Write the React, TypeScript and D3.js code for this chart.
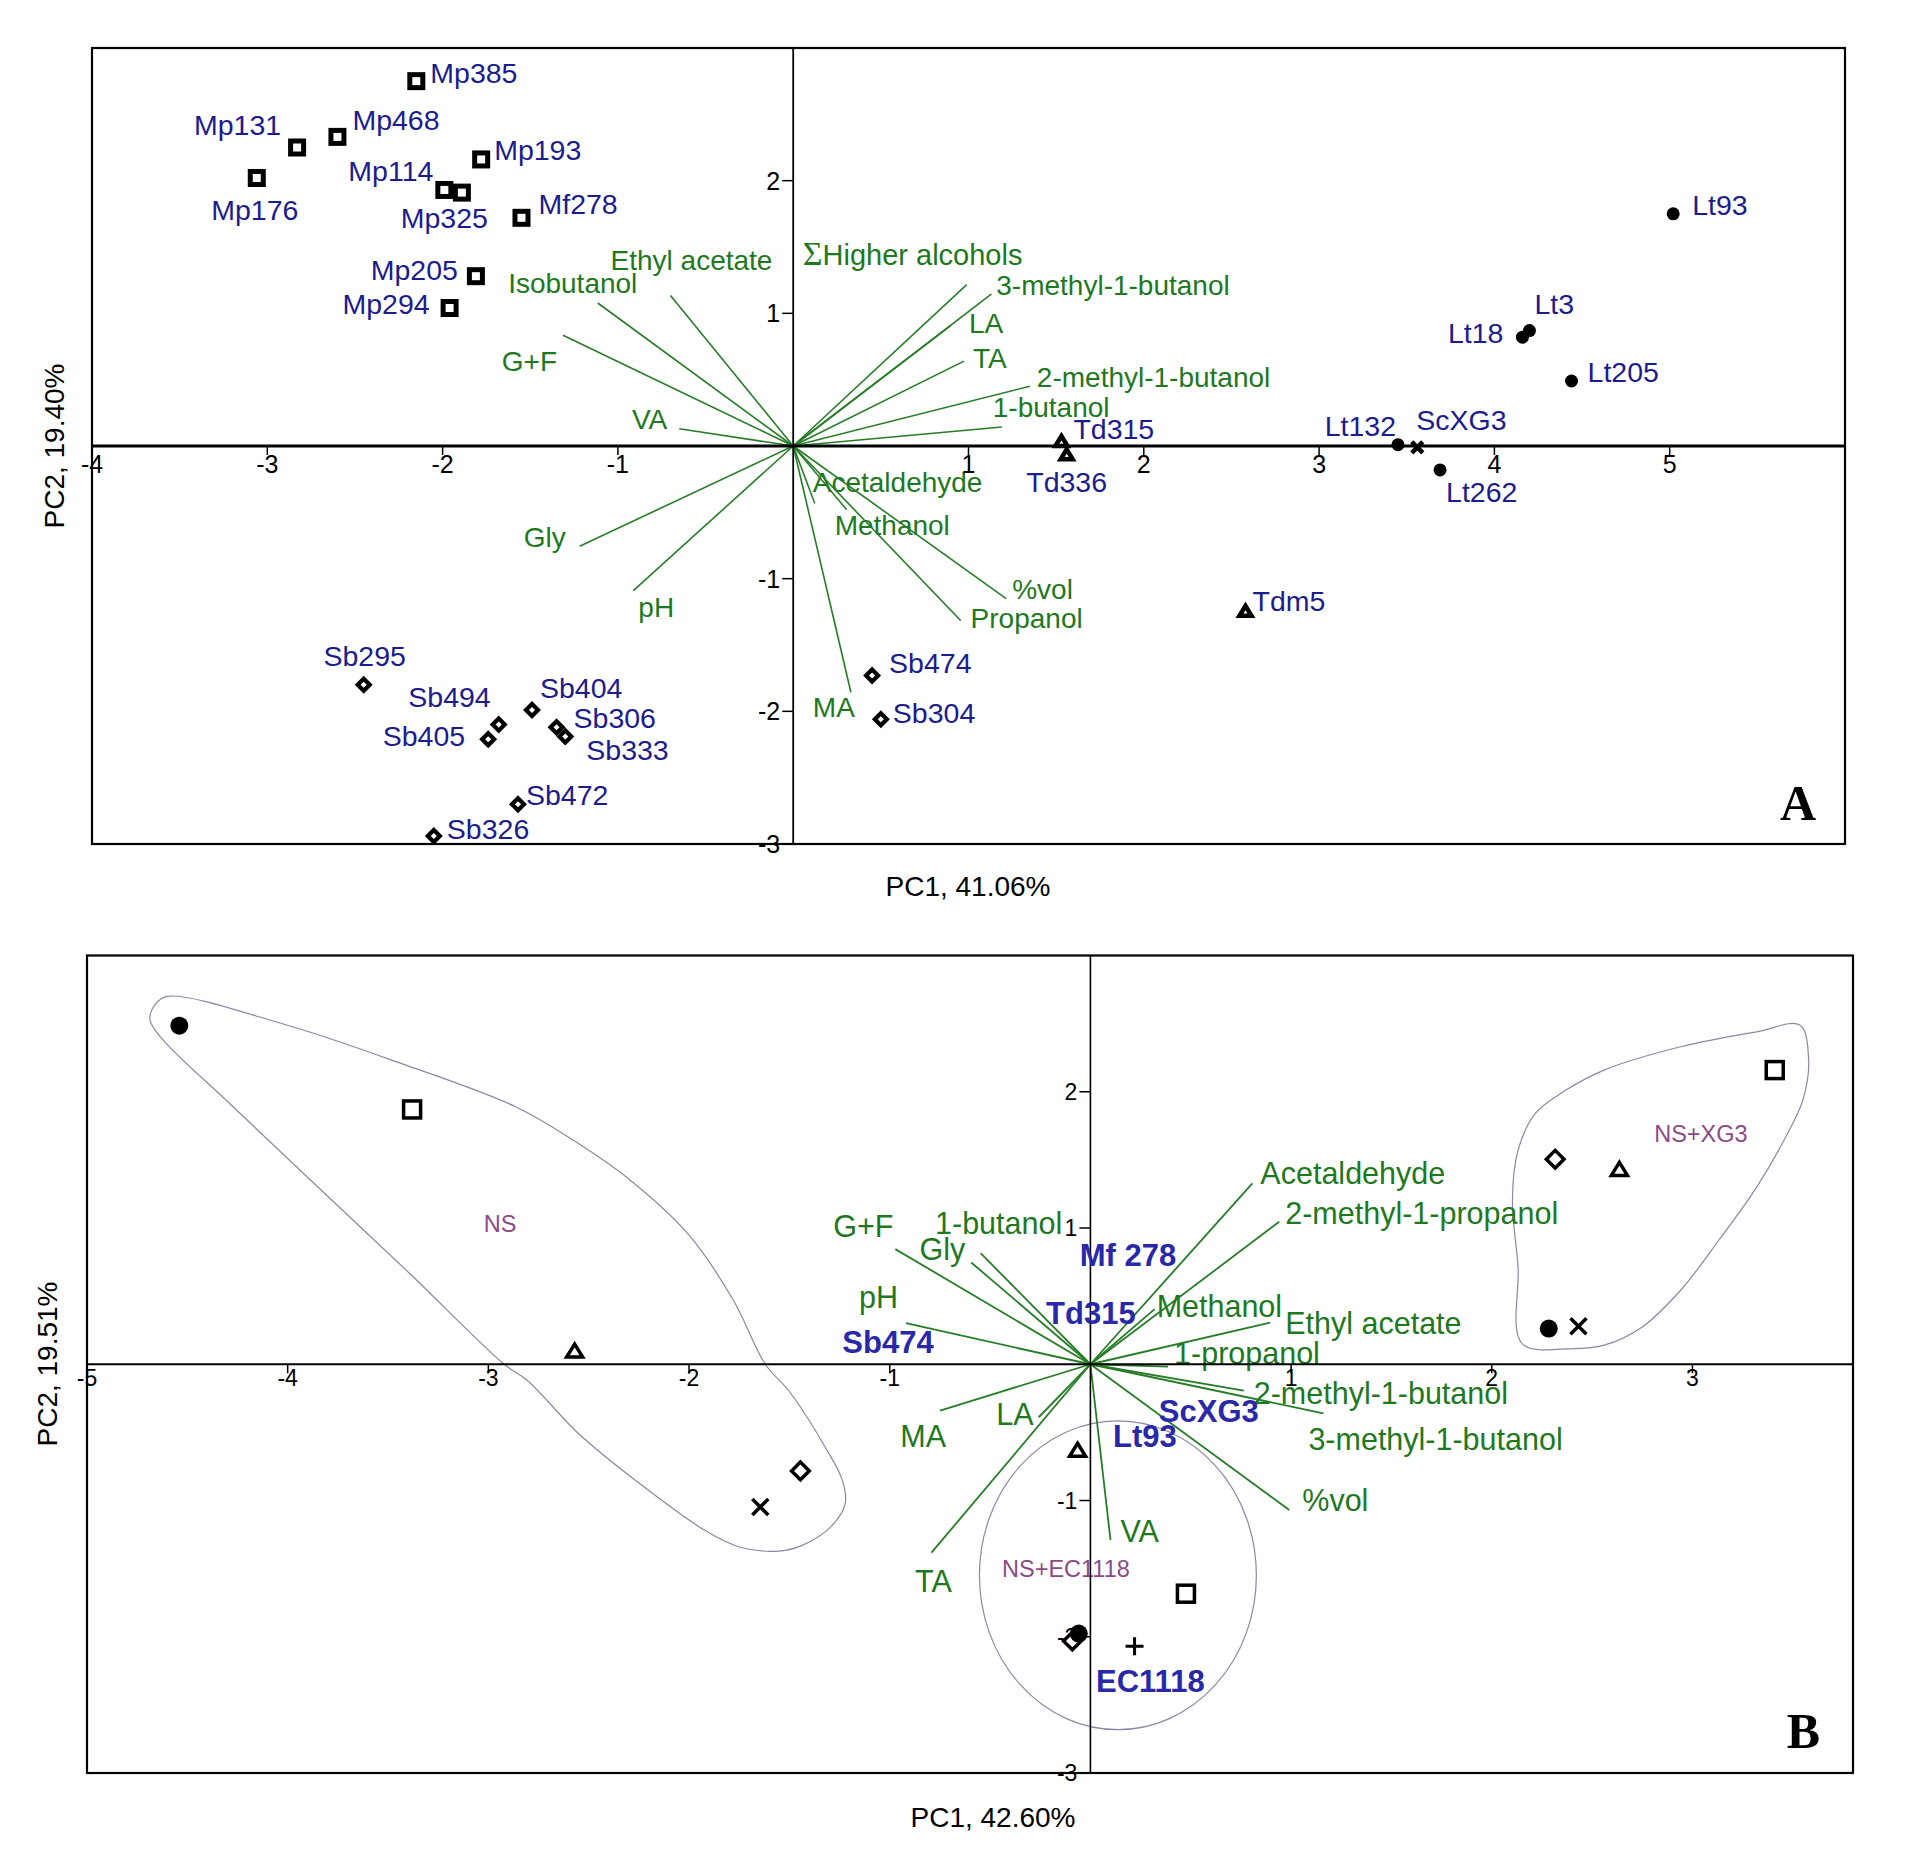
import React, { useRef, useEffect } from "react";
import * as d3 from "d3";

// ---------- Panel A: samples ----------
const sampleNamesA = [
  "Mp385", "Mp468", "Mp131", "Mp176", "Mp193", "Mp114", "Mp325", "Mf278", "Mp205", "Mp294",
  "Lt93", "Lt3", "Lt18", "Lt205", "Lt132", "Lt262", "ScXG3",
  "Td315", "Td336", "Tdm5",
  "Sb474", "Sb304", "Sb295", "Sb494", "Sb405", "Sb404", "Sb306", "Sb333", "Sb472", "Sb326",
];
const sampleMarkerA = [
  "square", "square", "square", "square", "square", "square", "square", "square", "square", "square",
  "circle", "circle", "circle", "circle", "circle", "circle", "times",
  "triangle", "triangle", "triangle",
  "diamond", "diamond", "diamond", "diamond", "diamond", "diamond", "diamond", "diamond", "diamond", "diamond",
];
const pc1A = [
  -2.15, -2.6, -2.83, -3.06, -1.78, -1.99, -1.89, -1.55, -1.81, -1.96,
  5.02, 4.2, 4.16, 4.44, 3.45, 3.69, 3.56,
  1.53, 1.56, 2.58,
  0.45, 0.5, -2.45, -1.68, -1.74, -1.49, -1.35, -1.3, -1.57, -2.05,
];
const pc2A = [
  2.75, 2.33, 2.25, 2.02, 2.16, 1.93, 1.91, 1.72, 1.28, 1.04,
  1.75, 0.87, 0.82, 0.49, 0.01, -0.18, -0.01,
  0.03, -0.07, -1.25,
  -1.73, -2.06, -1.8, -2.1, -2.21, -1.99, -2.12, -2.19, -2.7, -2.94,
];

// ---------- Panel A: variable loadings ----------
const varNamesA = [
  "Ethyl acetate", "Isobutanol", "G+F", "VA", "Gly", "pH", "MA", "Acetaldehyde", "Methanol",
  "%vol", "Propanol", "ΣHigher alcohols", "3-methyl-1-butanol", "LA", "TA", "2-methyl-1-butanol", "1-butanol",
];
const load1A = [-0.7, -1.115, -1.313, -0.65, -1.218, -0.912, 0.329, 0.123, 0.305, 1.215, 0.955, 0.99, 1.13, 0.9, 0.974, 1.35, 1.19];
const load2A = [1.134, 1.078, 0.835, 0.13, -0.755, -1.09, -1.856, -0.434, -0.48, -1.151, -1.315, 1.217, 1.145, 0.91, 0.64, 0.45, 0.143];

const ticksAX = [-4, -3, -2, -1, 1, 2, 3, 4, 5];
const ticksAY = [-3, -2, -1, 1, 2];

// ---------- Panel B: samples ----------
const groupB = [
  "NS", "NS", "NS", "NS", "NS",
  "NS+XG3", "NS+XG3", "NS+XG3", "NS+XG3", "NS+XG3",
  "NS+EC1118", "NS+EC1118", "NS+EC1118", "NS+EC1118", "NS+EC1118",
];
const markerB = [
  "circle", "square", "triangle", "diamond", "times",
  "square", "diamond", "triangle", "circle", "times",
  "triangle", "square", "diamond", "circle", "plus",
];
const pc1B = [-4.54, -3.38, -2.57, -1.445, -1.645, 3.41, 2.316, 2.636, 2.284, 2.432, -0.064, 0.476, -0.09, -0.058, 0.22];
const pc2B = [2.485, 1.87, 0.091, -0.783, -1.048, 2.159, 1.505, 1.424, 0.262, 0.279, -0.637, -1.684, -2.031, -1.977, -2.07];

// ---------- Panel B: variable loadings ----------
const varNamesB = [
  "G+F", "1-butanol", "Gly", "pH", "MA", "LA", "TA", "VA", "%vol", "Methanol",
  "1-propanol", "Ethyl acetate", "Acetaldehyde", "2-methyl-1-propanol", "2-methyl-1-butanol", "3-methyl-1-butanol",
];
const load1B = [-0.972, -0.547, -0.594, -0.919, -0.749, -0.258, -0.792, 0.1, 0.991, 0.32, 0.387, 0.896, 0.807, 0.941, 0.764, 1.161];
const load2B = [0.845, 0.815, 0.747, 0.301, -0.34, -0.389, -1.383, -1.29, -1.07, 0.405, -0.017, 0.306, 1.328, 1.046, -0.194, -0.36];

// strain names written inside panel B
const strainNamesB = ["Mf 278", "Td315", "Sb474", "ScXG3", "Lt93", "EC1118"];
const strainXB = [-0.053, -0.221, -1.236, 0.341, 0.113, 0.028];
const strainYB = [0.721, 0.295, 0.085, -0.422, -0.605, -2.403];

const groupNamesB = ["NS", "NS+XG3", "NS+EC1118"];
const groupXB = [-2.942, 3.042, -0.122];
const groupYB = [0.971, 1.633, -1.559];

// group envelopes (PC1, PC2)
const hullNS: [number, number][] = [
  [-4.6, 2.7], [-4.006, 2.49], [-3.435, 2.208], [-2.864, 1.89], [-2.578, 1.645], [-2.293, 1.351],
  [-2.007, 0.96], [-1.779, 0.47], [-1.62, 0.0], [-1.5, -0.2], [-1.322, -0.607], [-1.236, -0.852],
  [-1.222, -1.023], [-1.294, -1.194], [-1.436, -1.329], [-1.55, -1.371], [-1.75, -1.341],
  [-1.922, -1.219], [-2.26, -0.86], [-2.55, -0.51], [-2.807, -0.117], [-2.921, 0.0],
  [-3.392, 0.666], [-3.921, 1.4], [-4.289, 1.914], [-4.62, 2.379], [-4.686, 2.526], [-4.663, 2.636],
];
const hullXG3: [number, number][] = [
  [3.535, 2.489], [3.579, 2.232], [3.55, 1.938], [3.474, 1.694], [3.321, 1.302], [3.131, 0.91],
  [2.941, 0.543], [2.75, 0.274], [2.56, 0.14], [2.407, 0.115], [2.151, 0.152], [2.131, 0.714],
  [2.103, 1.204], [2.131, 1.571], [2.217, 1.841], [2.37, 2.012], [2.56, 2.159], [2.941, 2.33], [3.321, 2.44],
];
const ellipseEC = [0.137, -1.549, 0.69, 1.133]; // cx, cy, rx, ry

const ticksBX = [-5, -4, -3, -2, -1, 1, 2, 3];
const ticksBY = [-3, -2, -1, 1, 2];

// ---------- label placement (anchor, dx, dy in px) ----------
type Place = [string, number, number];
const sampleLabelA: Record<string, Place> = {
  Mp385: ["start", 14, 2], Mp468: ["start", 15, -7], Mp131: ["end", -16, -13], Mp176: ["middle", -2, 42],
  Mp193: ["start", 13, 1], Mp114: ["end", -11, -9], Mp325: ["end", 26, 35], Mf278: ["start", 17, -4],
  Mp205: ["end", -18, 4], Mp294: ["end", -20, 6],
  Lt93: ["start", 19, 1], Lt3: ["start", 5, -17], Lt18: ["end", -19, 6], Lt205: ["start", 16, 1],
  Lt132: ["end", -2, -9], Lt262: ["start", 6, 32], ScXG3: ["start", -1, -17],
  Td315: ["start", 12, -3], Td336: ["middle", 0, 37], Tdm5: ["start", 7, -1],
  Sb474: ["start", 17, -3], Sb304: ["start", 12, 4], Sb295: ["middle", 1, -19], Sb494: ["end", -8, -18],
  Sb405: ["end", -23, 7], Sb404: ["start", 8, -12], Sb306: ["start", 17, 1], Sb333: ["start", 21, 23],
  Sb472: ["start", 8, 1], Sb326: ["start", 13, 3],
};
const varLabelA: Record<string, Place> = {
  "Ethyl acetate": ["middle", 21, -26], Isobutanol: ["middle", -25, -10], "G+F": ["end", -6, 36],
  VA: ["end", -12, 0], Gly: ["end", -14, 1], pH: ["start", 5, 26], MA: ["middle", -17, 25],
  Acetaldehyde: ["start", -2, -12], Methanol: ["start", -12, 25], "%vol": ["start", 6, 0],
  Propanol: ["start", 10, 8], "ΣHigher alcohols": ["start", -164, -20], "3-methyl-1-butanol": ["start", 5, 1],
  LA: ["start", 18, 8], TA: ["start", 9, 7], "2-methyl-1-butanol": ["start", 7, 1], "1-butanol": ["start", -9, -10],
};
const varLabelB: Record<string, Place> = {
  "G+F": ["end", -2, -12], "1-butanol": ["middle", 18, -19], Gly: ["end", -6, -2], pH: ["end", -8, -15],
  MA: ["middle", -17, 36], LA: ["end", -5, 8], TA: ["middle", 2, 39], VA: ["start", 10, 2],
  "%vol": ["start", 13, 1], Methanol: ["start", 2, 8], "1-propanol": ["start", 6, -3],
  "Ethyl acetate": ["start", 15, 11], Acetaldehyde: ["start", 8, 1], "2-methyl-1-propanol": ["start", 6, 2],
  "2-methyl-1-butanol": ["start", 10, 13], "3-methyl-1-butanol": ["start", -15, 37],
};

const sans = "'Liberation Sans', Arial, sans-serif";
const serif = "'Liberation Serif', 'Times New Roman', serif";
const blueA = "#1c1c8c";
const blueB = "#2828a8";
const green = "#1e781e";
const greenLine = "#277d27";
const purple = "#8a4a8a";
const hullColor = "#9084a6";

type G = d3.Selection<SVGGElement, unknown, null, undefined>;

function drawMarker(g: G, shape: string, x: number, y: number, big: boolean) {
  const m = g.append("g").attr("transform", `translate(${x},${y})`);
  if (shape === "circle") {
    m.append("circle").attr("r", big ? 6.5 : 9).attr("fill", "#000");
  } else if (shape === "square") {
    const s = big ? 13 : 17;
    m.append("rect").attr("x", -s / 2).attr("y", -s / 2).attr("width", s).attr("height", s)
      .attr("fill", "#fff").attr("stroke", "#000").attr("stroke-width", big ? 5 : 3.5);
  } else if (shape === "diamond") {
    const s = big ? 8.5 : 12.5;
    m.append("rect").attr("x", -s / 2).attr("y", -s / 2).attr("width", s).attr("height", s)
      .attr("transform", "rotate(45)")
      .attr("fill", "#fff").attr("stroke", "#000").attr("stroke-width", big ? 4.2 : 3.5);
  } else if (shape === "triangle") {
    const w = big ? 12 : 16;
    const h = big ? 10 : 13;
    m.append("path").attr("d", `M0,${-h * 0.6}L${w / 2},${h * 0.4}L${-w / 2},${h * 0.4}Z`)
      .attr("fill", "#fff").attr("stroke", "#000").attr("stroke-width", big ? 4.5 : 3.5)
      .attr("stroke-linejoin", "miter");
  } else if (shape === "times") {
    const r = big ? 5.5 : 8;
    m.append("path").attr("d", `M${-r},${-r}L${r},${r}M${-r},${r}L${r},${-r}`)
      .attr("stroke", "#000").attr("stroke-width", big ? 4.5 : 3.5);
  } else if (shape === "plus") {
    const r = 9;
    m.append("path").attr("d", `M${-r},0L${r},0M0,${-r}L0,${r}`)
      .attr("stroke", "#000").attr("stroke-width", 3);
  }
}

function addVarLabel(g: G, name: string, x: number, y: number, p: Place, size: number) {
  const t = g.append("text").attr("x", x + p[1]).attr("y", y + p[2])
    .attr("text-anchor", p[0]).attr("font-family", sans).attr("font-size", size).attr("fill", green);
  if (name.startsWith("Σ")) {
    t.append("tspan").attr("font-family", serif).attr("font-size", size + 6).text("Σ");
    t.append("tspan").attr("font-size", size + 1).text(name.slice(1));
  } else {
    t.text(name);
  }
}

function drawAxes(
  g: G, x: d3.ScaleLinear<number, number>, y: d3.ScaleLinear<number, number>,
  ticksX: number[], ticksY: number[], xw: number, yw: number, fs: number, xOff: number
) {
  const [x0, x1] = x.range();
  const [y0, y1] = y.range();
  g.append("line").attr("x1", x0).attr("x2", x1).attr("y1", y(0)).attr("y2", y(0))
    .attr("stroke", "#000").attr("stroke-width", xw);
  g.append("line").attr("x1", x(0)).attr("x2", x(0)).attr("y1", y0).attr("y2", y1)
    .attr("stroke", "#000").attr("stroke-width", yw);
  ticksX.forEach((t) => {
    g.append("line").attr("x1", x(t)).attr("x2", x(t)).attr("y1", y(0)).attr("y2", y(0) + 9)
      .attr("stroke", "#000").attr("stroke-width", 1.5);
    g.append("text").attr("x", x(t)).attr("y", y(0) + xOff).attr("text-anchor", "middle")
      .attr("font-family", sans).attr("font-size", fs).attr("fill", "#000").text(String(t));
  });
  ticksY.forEach((t) => {
    g.append("line").attr("x1", x(0) - 11).attr("x2", x(0)).attr("y1", y(t)).attr("y2", y(t))
      .attr("stroke", "#000").attr("stroke-width", 1.5);
    g.append("text").attr("x", x(0) - 13).attr("y", y(t)).attr("dy", "0.36em").attr("text-anchor", "end")
      .attr("font-family", sans).attr("font-size", fs).attr("fill", "#000").text(String(t));
  });
}

export default function App() {
  const svgRef = useRef<SVGSVGElement>(null);

  useEffect(() => {
    if (!svgRef.current) return;
    const svg = d3.select(svgRef.current);
    svg.selectAll("*").remove();

    // ===== Panel A =====
    const xA = d3.scaleLinear().domain([-4, 6]).range([92, 1845]);
    const yA = d3.scaleLinear().domain([3, -3]).range([48, 844]);
    const gA = svg.append("g") as unknown as G;

    // vectors
    varNamesA.forEach((name, i) => {
      const ex = xA(load1A[i]);
      const ey = yA(load2A[i]);
      gA.append("line").attr("x1", xA(0)).attr("y1", yA(0)).attr("x2", ex).attr("y2", ey)
        .attr("stroke", greenLine).attr("stroke-width", 1.6);
      addVarLabel(gA, name, ex, ey, varLabelA[name], 28);
    });

    drawAxes(gA, xA, yA, ticksAX, ticksAY, 3, 1.8, 25, 27);

    gA.append("rect").attr("x", 92).attr("y", 48).attr("width", 1845 - 92).attr("height", 844 - 48)
      .attr("fill", "none").attr("stroke", "#000").attr("stroke-width", 2.2);

    sampleNamesA.forEach((name, i) => {
      const px = xA(pc1A[i]);
      const py = yA(pc2A[i]);
      drawMarker(gA, sampleMarkerA[i], px, py, true);
      const p = sampleLabelA[name];
      gA.append("text").attr("x", px + p[1]).attr("y", py + p[2]).attr("text-anchor", p[0])
        .attr("font-family", sans).attr("font-size", 28.5).attr("fill", blueA).text(name);
    });

    gA.append("text").attr("x", 968).attr("y", 896).attr("text-anchor", "middle")
      .attr("font-family", sans).attr("font-size", 28).text("PC1, 41.06%");
    gA.append("text").attr("transform", "translate(64,446) rotate(-90)").attr("text-anchor", "middle")
      .attr("font-family", sans).attr("font-size", 28).text("PC2, 19.40%");
    gA.append("text").attr("x", 1816).attr("y", 820).attr("text-anchor", "end")
      .attr("font-family", serif).attr("font-weight", "bold").attr("font-size", 50).text("A");

    // ===== Panel B =====
    const xB = d3.scaleLinear().domain([-5, 3.8]).range([87, 1853]);
    const yB = d3.scaleLinear().domain([3, -3]).range([955.5, 1773]);
    const gB = svg.append("g") as unknown as G;

    const hullLine = d3.line<[number, number]>()
      .x((d) => xB(d[0])).y((d) => yB(d[1]))
      .curve(d3.curveCatmullRomClosed.alpha(0.5));
    [hullNS, hullXG3].forEach((h) => {
      gB.append("path").attr("d", hullLine(h) || "").attr("fill", "none")
        .attr("stroke", hullColor).attr("stroke-width", 1.2);
    });
    gB.append("ellipse")
      .attr("cx", xB(ellipseEC[0])).attr("cy", yB(ellipseEC[1]))
      .attr("rx", xB(ellipseEC[2]) - xB(0)).attr("ry", yB(0) - yB(ellipseEC[3]))
      .attr("fill", "none").attr("stroke", hullColor).attr("stroke-width", 1.2);

    groupNamesB.forEach((name, i) => {
      gB.append("text").attr("x", xB(groupXB[i])).attr("y", yB(groupYB[i])).attr("text-anchor", "middle")
        .attr("font-family", sans).attr("font-size", 23.5).attr("fill", purple).text(name);
    });

    varNamesB.forEach((name, i) => {
      const ex = xB(load1B[i]);
      const ey = yB(load2B[i]);
      gB.append("line").attr("x1", xB(0)).attr("y1", yB(0)).attr("x2", ex).attr("y2", ey)
        .attr("stroke", greenLine).attr("stroke-width", 1.8);
      addVarLabel(gB, name, ex, ey, varLabelB[name], 30.5);
    });

    drawAxes(gB, xB, yB, ticksBX, ticksBY, 1.8, 1.6, 23, 22);

    gB.append("rect").attr("x", 87).attr("y", 955.5).attr("width", 1853 - 87).attr("height", 1773 - 955.5)
      .attr("fill", "none").attr("stroke", "#000").attr("stroke-width", 2.2);

    strainNamesB.forEach((name, i) => {
      gB.append("text").attr("x", xB(strainXB[i])).attr("y", yB(strainYB[i]))
        .attr("font-family", sans).attr("font-weight", "bold").attr("font-size", 31)
        .attr("fill", blueB).text(name);
    });

    groupB.forEach((_grp, i) => {
      drawMarker(gB, markerB[i], xB(pc1B[i]), yB(pc2B[i]), false);
    });

    gB.append("text").attr("x", 993).attr("y", 1827).attr("text-anchor", "middle")
      .attr("font-family", sans).attr("font-size", 28).text("PC1, 42.60%");
    gB.append("text").attr("transform", "translate(57,1364) rotate(-90)").attr("text-anchor", "middle")
      .attr("font-family", sans).attr("font-size", 28).text("PC2, 19.51%");
    gB.append("text").attr("x", 1820).attr("y", 1748).attr("text-anchor", "end")
      .attr("font-family", serif).attr("font-weight", "bold").attr("font-size", 50).text("B");
  }, []);

  return (
    <svg
      ref={svgRef}
      width={1908}
      height={1866}
      style={{ position: "absolute", left: 0, top: 0, background: "#fff", display: "block" }}
    />
  );
}
